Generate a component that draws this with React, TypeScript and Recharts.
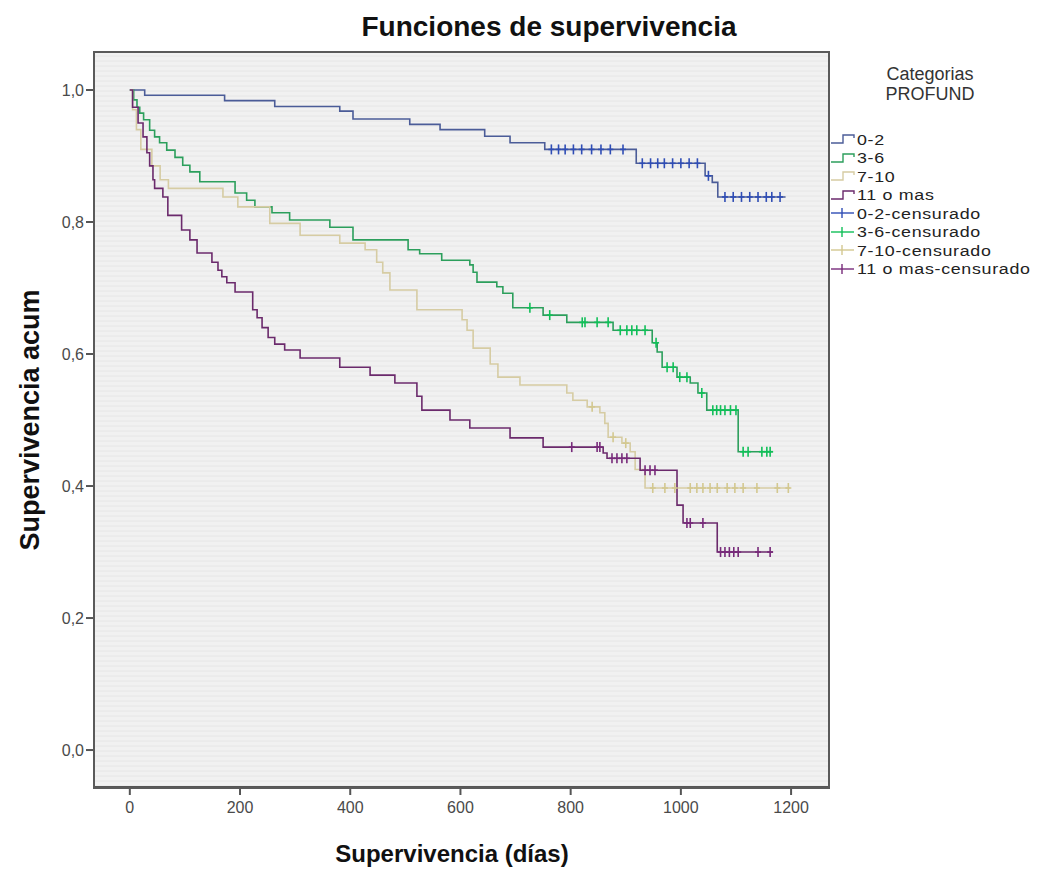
import React from "react";
import {
  ComposedChart,
  Line,
  Scatter,
  XAxis,
  YAxis,
  CartesianGrid,
} from "recharts";

// Kaplan-Meier steps: event times (días) and survival after each step
const t02 = [0, 27, 172, 263, 381, 405, 508, 563, 644, 690, 753, 919, 1044, 1057, 1067, 1190];
const s02 = [1.0, 0.992, 0.984, 0.975, 0.968, 0.956, 0.948, 0.94, 0.93, 0.92, 0.91, 0.889, 0.87, 0.86, 0.838, 0.838];
const c02 = [765, 778, 790, 805, 820, 838, 855, 872, 895, 930, 945, 958, 970, 985, 1000, 1015, 1030, 1050, 1080, 1095, 1110, 1125, 1140, 1155, 1165, 1180];

const t36 = [0, 7, 13, 18, 25, 36, 45, 54, 67, 82, 96, 109, 127, 191, 212, 227, 258, 290, 363, 405, 505, 526, 566, 617, 623, 630, 666, 677, 695, 750, 793, 877, 948, 957, 966, 993, 1017, 1031, 1047, 1104, 1167];
const s36 = [1.0, 0.985, 0.974, 0.965, 0.955, 0.939, 0.929, 0.92, 0.909, 0.898, 0.886, 0.876, 0.861, 0.844, 0.833, 0.823, 0.814, 0.803, 0.792, 0.773, 0.758, 0.752, 0.742, 0.735, 0.724, 0.709, 0.702, 0.692, 0.67, 0.659, 0.648, 0.636, 0.617, 0.603, 0.58, 0.565, 0.556, 0.541, 0.515, 0.452, 0.452];
const c36 = [726, 762, 821, 826, 848, 868, 890, 902, 911, 920, 935, 955, 975, 986, 998, 1011, 1038, 1058, 1065, 1072, 1080, 1090, 1100, 1113, 1122, 1147, 1156, 1162];

const t710 = [0, 5, 12, 20, 40, 55, 70, 169, 196, 254, 309, 381, 427, 448, 459, 472, 521, 603, 612, 623, 654, 668, 708, 793, 804, 830, 853, 862, 868, 893, 908, 917, 935, 1198];
const s710 = [1.0, 0.97, 0.94, 0.91, 0.885, 0.864, 0.851, 0.838, 0.823, 0.798, 0.78, 0.768, 0.758, 0.739, 0.723, 0.697, 0.667, 0.652, 0.636, 0.609, 0.585, 0.565, 0.553, 0.541, 0.53, 0.52, 0.511, 0.495, 0.474, 0.465, 0.452, 0.425, 0.397, 0.397];
const c710 = [839, 877, 900, 949, 971, 989, 1017, 1029, 1040, 1053, 1066, 1084, 1098, 1113, 1138, 1175, 1195];

const t11 = [0, 5, 15, 24, 31, 36, 42, 45, 60, 69, 94, 109, 122, 149, 160, 167, 176, 191, 223, 231, 240, 251, 263, 281, 309, 381, 436, 481, 521, 530, 581, 617, 690, 750, 859, 866, 926, 993, 1004, 1066, 1167];
const s11 = [1.0, 0.974, 0.95, 0.929, 0.905, 0.885, 0.864, 0.851, 0.838, 0.81, 0.788, 0.773, 0.753, 0.739, 0.727, 0.717, 0.708, 0.694, 0.667, 0.655, 0.64, 0.625, 0.615, 0.606, 0.594, 0.58, 0.568, 0.556, 0.536, 0.515, 0.5, 0.488, 0.473, 0.459, 0.45, 0.442, 0.424, 0.371, 0.344, 0.3, 0.3];
const c11 = [802, 848, 853, 875, 884, 893, 902, 935, 944, 953, 1011, 1017, 1040, 1072, 1080, 1088, 1096, 1104, 1140, 1162];

const xTicks = [0, 200, 400, 600, 800, 1000, 1200];
const yTicks = [0, 0.2, 0.4, 0.6, 0.8, 1.0];

const FONT = "'Liberation Sans', Arial, sans-serif";

function steps(t: number[], s: number[]) {
  return t.map((x, i) => ({ t: x, s: s[i] }));
}

function censored(t: number[], s: number[], c: number[]) {
  return c.map((x) => {
    let v = s[0];
    for (let i = 0; i < t.length; i++) if (t[i] <= x) v = s[i];
    return { t: x, s: v };
  });
}

const groups = [
  { name: "0-2", t: t02, s: s02, c: c02, line: "#4b5c98", mark: "#2f4db5" },
  { name: "3-6", t: t36, s: s36, c: c36, line: "#2c9f5c", mark: "#10bf58" },
  { name: "7-10", t: t710, s: s710, c: c710, line: "#d6cca3", mark: "#d3c890" },
  { name: "11 o mas", t: t11, s: s11, c: c11, line: "#6b2a6c", mark: "#772a7a" },
];

function tickShape(color: string) {
  return (props: any) => {
    const { cx, cy } = props;
    return (
      <g>
        <line x1={cx} x2={cx} y1={cy - 5} y2={cy + 5} stroke={color} strokeWidth={1.6} />
        <line x1={cx - 3} x2={cx + 3} y1={cy} y2={cy} stroke={color} strokeWidth={1.6} />
      </g>
    );
  };
}

function StepIcon({ color }: { color: string }) {
  return (
    <svg width={26} height={12} style={{ marginRight: 1, flexShrink: 0 }}>
      <polyline points="1,10 13,10 13,2 24,2 24,5" fill="none" stroke={color} strokeWidth={1.4} />
    </svg>
  );
}

function CensorIcon({ color }: { color: string }) {
  return (
    <svg width={26} height={12} style={{ marginRight: 1, flexShrink: 0 }}>
      <line x1={1} x2={24} y1={6} y2={6} stroke={color} strokeWidth={1.4} />
      <line x1={12} x2={12} y1={1} y2={11} stroke={color} strokeWidth={1.4} />
    </svg>
  );
}

const rowStyle = {
  display: "flex",
  alignItems: "center",
  height: 18.5,
  whiteSpace: "nowrap" as const,
};

const labelStyle = {
  display: "inline-block",
  lineHeight: "17px",
  fontSize: 15.5,
  letterSpacing: 0.6,
  transform: "scaleX(1.15)",
  transformOrigin: "left center",
};

export default function App() {
  const yFmt = (v: number) => v.toFixed(1).replace(".", ",");

  return (
    <div
      style={{
        position: "absolute",
        left: 0,
        top: 0,
        width: 1054,
        height: 870,
        background: "#fff",
        fontFamily: FONT,
      }}
    >
      <ComposedChart
        width={1054}
        height={870}
        margin={{ top: 52, right: 226, bottom: 43, left: 34 }}
      >
        <CartesianGrid
          vertical={false}
          fill="#f1f1f1"
          stroke="#e6e6e6"
          horizontalCoordinatesGenerator={({ offset }: any) => {
            const out: number[] = [];
            for (let y = offset.top + 4; y < offset.top + offset.height; y += 5) out.push(y);
            return out;
          }}
        />
        <XAxis
          dataKey="t"
          type="number"
          domain={[-65, 1267]}
          ticks={xTicks}
          allowDataOverflow
          height={40}
          stroke="#555"
          strokeWidth={2}
          tickSize={8}
          tickMargin={7}
          tick={{ fill: "#4a4a4a", fontSize: 16, fontFamily: FONT }}
        />
        <YAxis
          type="number"
          domain={[-0.056, 1.0576]}
          ticks={yTicks}
          allowDataOverflow
          width={60}
          stroke="#555"
          strokeWidth={2}
          tickSize={8}
          tickMargin={2}
          tickFormatter={yFmt}
          tick={{ fill: "#4a4a4a", fontSize: 16, fontFamily: FONT }}
        />
        {groups.map((g) => (
          <Line
            key={g.name}
            data={steps(g.t, g.s)}
            dataKey="s"
            type="stepAfter"
            stroke={g.line}
            strokeWidth={1.6}
            dot={false}
            activeDot={false}
            isAnimationActive={false}
          />
        ))}
        {groups.map((g) => (
          <Scatter
            key={g.name + "-c"}
            data={censored(g.t, g.s, g.c)}
            dataKey="s"
            shape={tickShape(g.mark)}
            isAnimationActive={false}
          />
        ))}
      </ComposedChart>

      {/* plot frame */}
      <div
        style={{
          position: "absolute",
          left: 93,
          top: 51,
          width: 733,
          height: 734,
          border: "2px solid #5a5a5a",
          pointerEvents: "none",
        }}
      />

      {/* title */}
      <div
        style={{
          position: "absolute",
          left: 94,
          width: 910,
          top: 11,
          textAlign: "center",
          fontSize: 28,
          fontWeight: "bold",
          color: "#111",
        }}
      >
        Funciones de supervivencia
      </div>

      {/* x axis label */}
      <div
        style={{
          position: "absolute",
          left: 94,
          width: 716,
          top: 840,
          textAlign: "center",
          fontSize: 24,
          fontWeight: "bold",
          color: "#111",
        }}
      >
        Supervivencia (días)
      </div>

      {/* y axis label */}
      <div
        style={{
          position: "absolute",
          left: 30,
          top: 420,
          transform: "translate(-50%, -50%) rotate(-90deg)",
          whiteSpace: "nowrap",
          fontSize: 27,
          fontWeight: "bold",
          color: "#111",
        }}
      >
        Supervivencia acum
      </div>

      {/* legend */}
      <div
        style={{
          position: "absolute",
          left: 870,
          top: 64,
          width: 120,
          textAlign: "center",
          fontSize: 18,
          lineHeight: "20px",
          color: "#333",
        }}
      >
        Categorias
        <br />
        PROFUND
      </div>
      <div style={{ position: "absolute", left: 830, top: 130, color: "#222" }}>
        {groups.map((g) => (
          <div key={g.name} style={rowStyle}>
            <StepIcon color={g.line} />
            <span style={labelStyle}>{g.name}</span>
          </div>
        ))}
        {groups.map((g) => (
          <div key={g.name + "-c"} style={rowStyle}>
            <CensorIcon color={g.mark} />
            <span style={labelStyle}>{g.name}-censurado</span>
          </div>
        ))}
      </div>
    </div>
  );
}
